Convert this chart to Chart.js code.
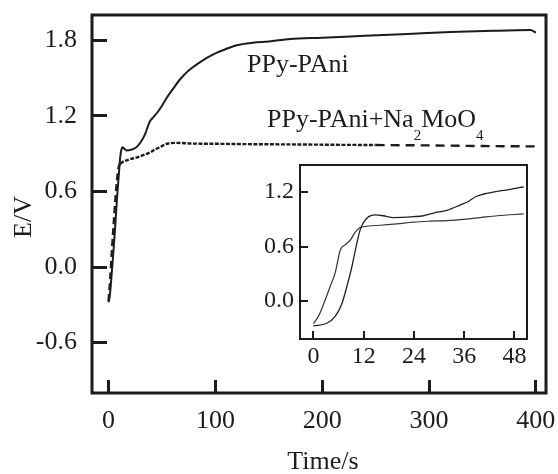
<!DOCTYPE html>
<html>
<head>
<meta charset="utf-8">
<script src="https://cdn.jsdelivr.net/npm/chart.js@4.4.1/dist/chart.umd.min.js"></script>
<style>
body { margin: 0; background: #fff; }
#wrap { position: relative; width: 558px; height: 474px; }
#wrap canvas { position: absolute; left: 0; top: 0; }
#inset { pointer-events: none; }
</style>
</head>
<body>
<div id="wrap">
  <canvas id="main" width="558" height="474"></canvas>
  <canvas id="inset" width="558" height="474"></canvas>
</div>
<script>
// main plot: PPy-PAni (solid) and PPy-PAni+Na2MoO4 (dashed)
const solidT = [0, 1, 2.5, 4.7, 6.3, 7.8, 9.4, 10.9, 12, 13, 14.5, 17, 21, 26, 30, 34, 37, 39, 42, 46, 50, 55, 60, 67, 75, 83, 92, 101, 110, 120, 135, 150, 170, 200, 240, 280, 320, 360, 395, 400];
const solidE = [-0.28, -0.24, -0.1, 0.14, 0.33, 0.53, 0.71, 0.87, 0.93, 0.95, 0.94, 0.925, 0.93, 0.95, 0.99, 1.05, 1.12, 1.16, 1.19, 1.23, 1.28, 1.35, 1.41, 1.49, 1.56, 1.61, 1.66, 1.70, 1.73, 1.76, 1.78, 1.79, 1.81, 1.82, 1.835, 1.85, 1.865, 1.875, 1.88, 1.86];
const dashT = [0, 1.5, 3.2, 4.7, 6.3, 7.8, 9.4, 11, 12.5, 18, 26.6, 33, 39, 44, 48, 52, 56, 65, 76, 100, 130, 170, 210, 250, 300, 350, 400];
const dashE = [-0.27, -0.1, 0.14, 0.33, 0.53, 0.68, 0.79, 0.82, 0.83, 0.85, 0.87, 0.89, 0.91, 0.935, 0.95, 0.97, 0.98, 0.985, 0.98, 0.978, 0.975, 0.973, 0.97, 0.968, 0.965, 0.96, 0.957];

// inset: first 50 s
const insetT1 = [0, 3.2, 5.2, 6.8, 8.0, 9.2, 10.2, 11.2, 12.1, 13.2, 14.8, 16.7, 19.1, 23.9, 26.3, 28.7, 31.9, 35.1, 37.1, 38.7, 40.7, 43.9, 47, 50.2];
const insetE1 = [-0.276, -0.246, -0.17, -0.03, 0.16, 0.38, 0.60, 0.79, 0.875, 0.93, 0.95, 0.94, 0.92, 0.93, 0.94, 0.97, 1.0, 1.06, 1.10, 1.15, 1.18, 1.21, 1.23, 1.26];
const insetT2 = [0, 1.2, 2.4, 4.0, 5.2, 6.4, 7.6, 8.8, 10, 11.2, 16, 19.9, 23.9, 27.9, 31.9, 35.9, 39.9, 43.9, 50.2];
const insetE2 = [-0.25, -0.17, -0.04, 0.16, 0.31, 0.56, 0.62, 0.67, 0.76, 0.81, 0.835, 0.85, 0.87, 0.88, 0.886, 0.90, 0.92, 0.94, 0.96];

const mainXTicks = [0, 100, 200, 300, 400];
const mainYTicks = [-0.6, 0, 0.6, 1.2, 1.8];
const insetXTicks = [0, 12, 24, 36, 48];
const insetYTicks = [0, 0.6, 1.2];

const INK = '#1c1c1c';
const SERIF = '"Liberation Serif", "Times New Roman", serif';
Chart.defaults.font.family = SERIF;
Chart.defaults.color = INK;

function pts(xs, ys) {
    return xs.map((x, i) => ({ x: x, y: ys[i] }));
}

function fixedTicks(list) {
    return scale => { scale.ticks = list.map(v => ({ value: v })); };
}

// dashed curve changes its pattern along the time axis
function dashFor(t) {
    if (t < 11) return [7, 4];
    if (t < 215) return [4, 1.5];
    return [9, 6];
}

const boxPlugin = {
    id: 'box',
    afterDraw(chart, args, opts) {
        const ctx = chart.ctx;
        const a = chart.chartArea;
        ctx.save();
        ctx.lineWidth = opts.width;
        ctx.strokeStyle = INK;
        ctx.strokeRect(a.left, a.top, a.right - a.left, a.bottom - a.top);
        ctx.restore();
    }
};

const textPlugin = {
    id: 'texts',
    afterDraw(chart) {
        const ctx = chart.ctx;
        ctx.save();
        ctx.fillStyle = INK;
        ctx.textBaseline = 'alphabetic';
        ctx.font = '26px ' + SERIF;
        ctx.fillText('PPy-PAni', 247, 72);

        let x = 267;
        [['PPy-PAni+Na', false], ['2', true], ['MoO', false], ['4', true]].forEach(p => {
            ctx.font = (p[1] ? '15px ' : '26px ') + SERIF;
            ctx.fillText(p[0], x, p[1] ? 140 : 127);
            x += ctx.measureText(p[0]).width;
        });

        ctx.font = '26px ' + SERIF;
        ctx.textAlign = 'center';
        ctx.fillText('Time/s', 323, 469);
        ctx.translate(31, 217);
        ctx.rotate(-Math.PI / 2);
        ctx.fillText('E/V', 0, 0);
        ctx.restore();
    }
};

function axis(opts) {
    return {
        type: 'linear',
        min: opts.min,
        max: opts.max,
        afterBuildTicks: fixedTicks(opts.ticks),
        afterFit: s => {
            opts.fit(s);
            s.paddingTop = 0;
            s.paddingBottom = 0;
            s.paddingLeft = 0;
            s.paddingRight = 0;
        },
        border: { display: false },
        grid: { drawOnChartArea: false, tickLength: opts.tick, lineWidth: opts.lw, color: INK },
        ticks: {
            padding: opts.pad,
            color: INK,
            font: { size: opts.size },
            maxRotation: 0,
            autoSkip: false,
            callback: opts.fmt
        }
    };
}

new Chart(document.getElementById('main'), {
    type: 'line',
    data: {
        datasets: [{
            label: 'PPy-PAni',
            data: pts(solidT, solidE),
            borderColor: INK,
            borderWidth: 2,
            pointRadius: 0,
            cubicInterpolationMode: 'monotone'
        }, {
            label: 'PPy-PAni+Na2MoO4',
            data: pts(dashT, dashE),
            borderColor: INK,
            borderWidth: 2.4,
            pointRadius: 0,
            cubicInterpolationMode: 'monotone',
            segment: { borderDash: c => dashFor(c.p0.parsed.x) }
        }]
    },
    options: {
        responsive: false,
        animation: false,
        layout: { padding: { left: 0, top: 15, right: 12, bottom: 0 } },
        plugins: { legend: { display: false }, tooltip: { enabled: false }, box: { width: 3 } },
        scales: {
            x: axis({ min: -15.5, max: 409.5, ticks: mainXTicks, fit: s => { s.height = 81; },
                      tick: -13, lw: 3, pad: 26, size: 26, fmt: v => String(v) }),
            y: axis({ min: -1, max: 2, ticks: mainYTicks, fit: s => { s.width = 92; },
                      tick: -15, lw: 3, pad: 30, size: 26, fmt: v => v.toFixed(1) })
        }
    },
    plugins: [boxPlugin, textPlugin]
});

new Chart(document.getElementById('inset'), {
    type: 'line',
    data: {
        datasets: [{
            label: 'PPy-PAni',
            data: pts(insetT1, insetE1),
            borderColor: '#222',
            borderWidth: 1.3,
            pointRadius: 0,
            cubicInterpolationMode: 'monotone'
        }, {
            label: 'PPy-PAni+Na2MoO4',
            data: pts(insetT2, insetE2),
            borderColor: '#333',
            borderWidth: 1.2,
            pointRadius: 0,
            cubicInterpolationMode: 'monotone'
        }]
    },
    options: {
        responsive: false,
        animation: false,
        layout: { padding: { left: 250, top: 165, right: 31, bottom: 85 } },
        plugins: { legend: { display: false }, tooltip: { enabled: false }, box: { width: 2 } },
        scales: {
            x: axis({ min: -3.2, max: 51, ticks: insetXTicks, fit: s => { s.height = 50; },
                      tick: -8, lw: 2, pad: 11, size: 24, fmt: v => String(v) }),
            y: axis({ min: -0.42, max: 1.5, ticks: insetYTicks, fit: s => { s.width = 50; },
                      tick: -8, lw: 2, pad: 14, size: 24, fmt: v => v.toFixed(1) })
        }
    },
    plugins: [boxPlugin]
});
</script>
</body>
</html>
